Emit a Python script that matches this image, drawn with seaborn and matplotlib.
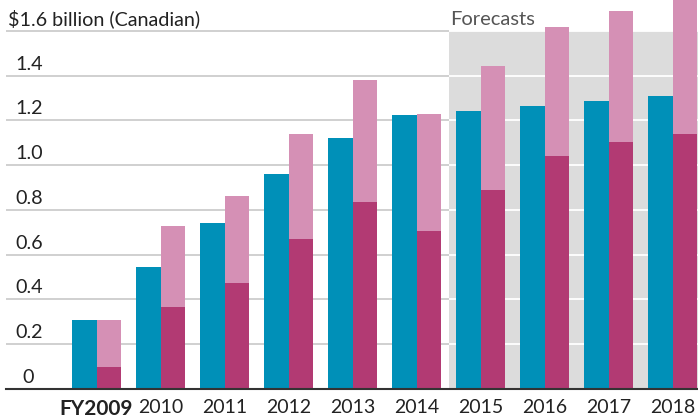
import pandas as pd
import seaborn as sns
import matplotlib.pyplot as plt
from matplotlib.transforms import blended_transform_factory

# Valores (bilhões de dólares canadenses)
years = ["FY2009", "2010", "2011", "2012", "2013", "2014", "2015", "2016", "2017", "2018"]
blue_values = [0.308, 0.544, 0.743, 0.962, 1.123, 1.225, 1.242, 1.263, 1.287, 1.311]
pink_totals = [0.310, 0.728, 0.862, 1.140, 1.380, 1.230, 1.444, 1.620, 1.689, 1.760]
dark_values = [0.098, 0.368, 0.472, 0.669, 0.836, 0.708, 0.889, 1.041, 1.104, 1.140]
y_ticks = [0, 0.2, 0.4, 0.6, 0.8, 1.0, 1.2, 1.4, 1.6]
y_labels = ["0", "0.2", "0.4", "0.6", "0.8", "1.0", "1.2", "1.4", "$1.6 billion (Canadian)"]
forecast_start = 5.5

BLUE = "#0090b8"
LIGHT_PINK = "#d590b5"
DARK_PINK = "#b23a73"

sns.set_theme(style="white")
plt.rcParams["font.family"] = ["Lato", "DejaVu Sans"]

fig = plt.figure(figsize=(6.98, 4.19), dpi=100)
ax = fig.add_axes([6 / 698, 30 / 419, 692 / 698, 389 / 419])

x_min, x_max = -1.414, 9.398

# Área de previsão sombreada
ax.fill_between([forecast_start, x_max], 0, 1.6, color="#dcdcdc", lw=0, zorder=0)

# Linhas de grade: cinza fora da área sombreada, brancas dentro
grid_vals = y_ticks[1:]
ax.hlines(grid_vals, x_min, forecast_start, color="#cdcdcd", lw=1.3, zorder=1)
ax.hlines(grid_vals, forecast_start, x_max, color="white", lw=1.3, zorder=1)

# Barras azul e total rosa
df = pd.DataFrame({
    "year": years * 2,
    "series": ["Blue"] * len(years) + ["Pink"] * len(years),
    "value": blue_values + pink_totals,
})
sns.barplot(data=df, x="year", y="value", hue="series", hue_order=["Blue", "Pink"],
            palette=[BLUE, LIGHT_PINK], width=0.78, dodge=True, saturation=1,
            linewidth=0, legend=False, ax=ax, zorder=2)

# Parte inferior escura da barra rosa
df_dark = pd.DataFrame({
    "year": years * 2,
    "series": ["Blue"] * len(years) + ["Pink"] * len(years),
    "value": [0] * len(years) + dark_values,
})
sns.barplot(data=df_dark, x="year", y="value", hue="series", hue_order=["Blue", "Pink"],
            palette=[BLUE, DARK_PINK], width=0.78, dodge=True, saturation=1,
            linewidth=0, legend=False, ax=ax, zorder=3)

ax.set_xlim(x_min, x_max)
ax.set_ylim(0, 1.7385)
ax.set_xlabel("")
ax.set_ylabel("")
ax.set_yticks([])

for side in ["left", "right", "top"]:
    ax.spines[side].set_visible(False)
ax.spines["bottom"].set_color("#333333")
ax.spines["bottom"].set_linewidth(1.5)
ax.spines["bottom"].set_zorder(4)

ax.tick_params(axis="x", length=0, pad=7, labelsize=14, labelcolor="#222222")
for lbl in ax.get_xticklabels():
    if lbl.get_text() == "FY2009":
        lbl.set_fontweight("bold")
        lbl.set_fontsize(15)

# Rótulos do eixo y acima das linhas de grade
trans = blended_transform_factory(fig.transFigure, ax.transData)
for val, txt in zip(y_ticks, y_labels):
    x_px = 8 if txt.startswith("$") else (22 if txt == "0" else 15)
    ax.text(x_px / 698, val + 0.027, txt, transform=trans, ha="left", va="baseline",
            fontsize=14.2, color="#222222", zorder=5)

ax.text(forecast_start + 0.02, 1.6 + 0.027, "Forecasts", ha="left", va="baseline",
        fontsize=14.5, color="#555555", zorder=5)

fig.savefig("out.png", dpi=100)
